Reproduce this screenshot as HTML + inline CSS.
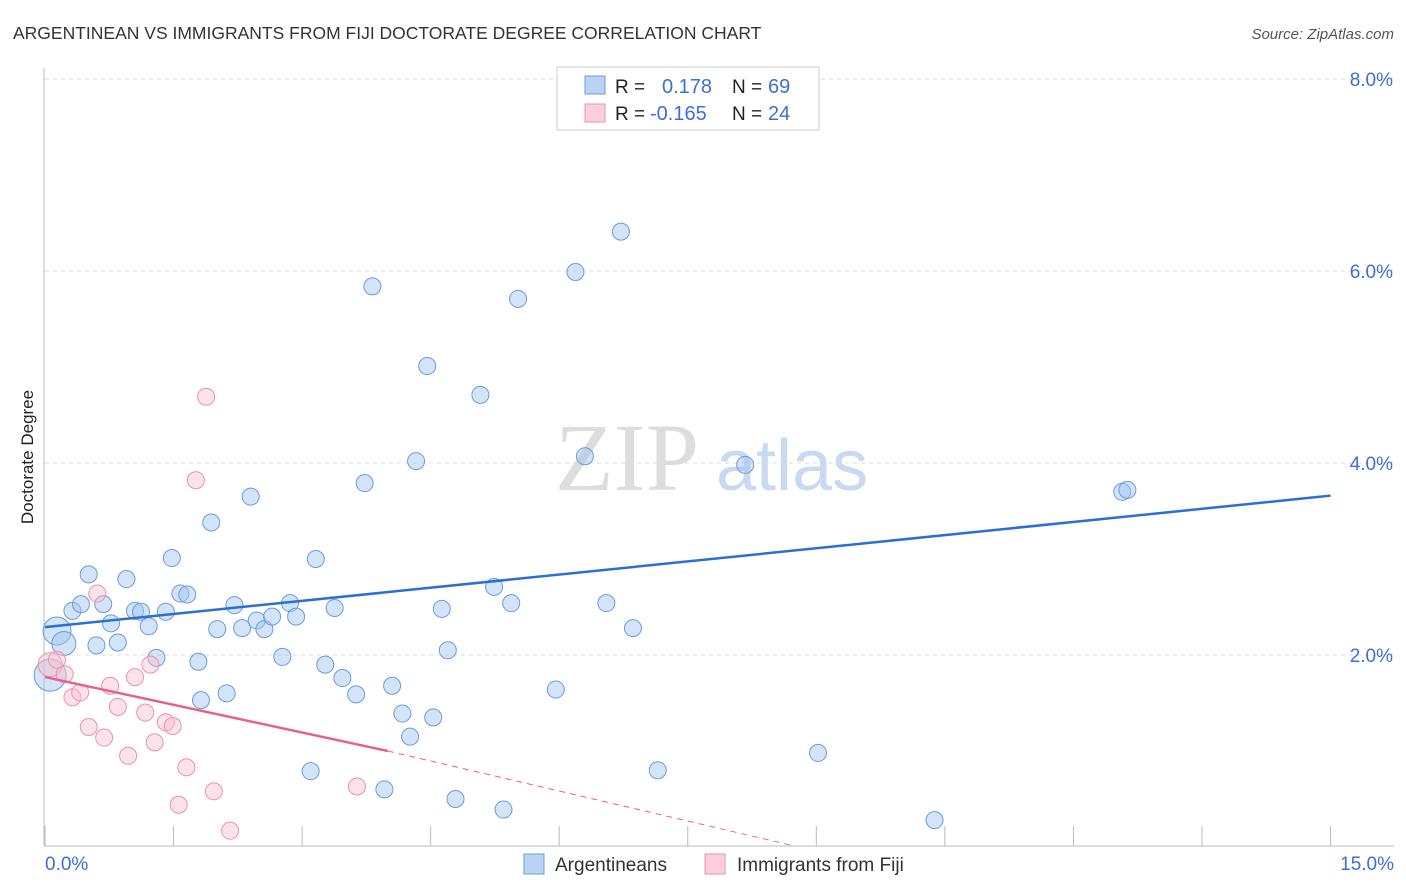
<!DOCTYPE html>
<html><head><meta charset="utf-8"><style>
body{margin:0;background:#fff;font-family:"Liberation Sans",sans-serif;}
</style></head><body>
<svg id="chart" width="1406" height="892" xmlns="http://www.w3.org/2000/svg" style="display:block">
<text x="13" y="39" font-size="17.5" fill="#333">ARGENTINEAN VS IMMIGRANTS FROM FIJI DOCTORATE DEGREE CORRELATION CHART</text>
<text x="1394" y="39" font-size="15" fill="#555" text-anchor="end" font-style="italic">Source: ZipAtlas.com</text>
<text transform="translate(33,457) rotate(-90)" font-size="17" fill="#222" text-anchor="middle">Doctorate Degree</text>
<g id="grid"></g>
<text x="555" y="490" font-size="96" fill="#ddd" font-family="Liberation Serif,serif">ZIP</text>
<text x="716" y="490" font-size="72" fill="#c9d9f2">atlas</text>
<g id="marks"></g>
<g id="legend">
<rect x="557" y="67" width="262" height="63" fill="#fff" stroke="#ccc"/>
<rect x="585" y="76" width="20" height="18" fill="#b9d3f5" stroke="#6b9be0"/>
<rect x="585" y="104" width="20" height="18" fill="#fbd0dc" stroke="#ee90ad"/>
<text x="615" y="93" font-size="19" fill="#222">R =</text>
<text x="662" y="93" font-size="20" fill="#3b6fd8">0.178</text>
<text x="732" y="93" font-size="19" fill="#222">N =</text>
<text x="768" y="93" font-size="20" fill="#3b6fd8">69</text>
<text x="615" y="120" font-size="19" fill="#222">R =</text>
<text x="650" y="120" font-size="20" fill="#3b6fd8">-0.165</text>
<text x="732" y="120" font-size="19" fill="#222">N =</text>
<text x="768" y="120" font-size="20" fill="#3b6fd8">24</text>
</g>
<g>
<rect x="524" y="854" width="20" height="20" fill="#b9d3f5" stroke="#6b9be0"/>
<text x="555" y="871" font-size="19" fill="#333">Argentineans</text>
<rect x="705" y="854" width="20" height="20" fill="#fbd0dc" stroke="#ee90ad"/>
<text x="737" y="871" font-size="19" fill="#333">Immigrants from Fiji</text>
</g>
</svg>
<script>
const NS="http://www.w3.org/2000/svg";
const blueX=[0.14,0.22,0.06,0.32,0.42,0.51,0.6,0.68,0.77,0.85,0.95,1.05,1.12,1.21,1.3,1.41,1.48,1.58,1.66,1.79,1.82,1.94,2.01,2.12,2.21,2.3,2.4,2.47,2.56,2.65,2.77,2.86,2.93,3.1,3.16,3.27,3.38,3.47,3.63,3.73,3.82,3.96,4.05,4.17,4.26,4.33,4.46,4.53,4.63,4.7,4.79,5.08,5.24,5.35,5.44,5.52,5.96,6.19,6.3,6.55,6.72,6.86,7.15,8.17,9.02,10.38,12.57,12.63,6.08];
const blueY=[2.25,2.12,1.79,2.46,2.53,2.84,2.1,2.53,2.33,2.13,2.79,2.46,2.45,2.3,1.97,2.45,3.01,2.64,2.63,1.93,1.53,3.38,2.27,1.6,2.52,2.28,3.65,2.36,2.27,2.4,1.98,2.54,2.4,0.79,3.0,1.9,2.49,1.76,1.59,3.79,5.84,0.6,1.68,1.39,1.15,4.02,5.01,1.35,2.48,2.05,0.5,4.71,2.71,0.39,2.54,5.71,1.64,5.99,4.07,2.54,6.41,2.28,0.8,3.98,0.98,0.28,3.7,3.72,7.71];
const pinkX=[0.06,0.14,0.23,0.32,0.41,0.51,0.61,0.69,0.76,0.85,0.97,1.05,1.17,1.23,1.28,1.41,1.49,1.56,1.65,1.76,1.88,1.97,2.16,3.64];
const pinkY=[1.9,1.95,1.8,1.56,1.61,1.25,2.64,1.14,1.68,1.46,0.95,1.77,1.4,1.9,1.09,1.3,1.26,0.44,0.83,3.82,4.69,0.58,0.17,0.63];
const blueSize=[14,12,16];const pinkSize=[12];
const xTicks=[0,1.5,3,4.5,6,7.5,9,10.5,12,13.5,15];
const yTicks=[2,4,6,8];
const yTickLabels=["2.0%","4.0%","6.0%","8.0%"];
const blueTrend=[[0,2.29],[15,3.66]];
const pinkTrend=[[0,1.77],[4,1.0],[8.7,0.02]];
const X=v=>45+v*85.7, Y=v=>847-v*96;
function mk(tag,at,parent){const e=document.createElementNS(NS,tag);for(const k in at)e.setAttribute(k,at[k]);parent.appendChild(e);return e;}
const grid=document.getElementById('grid'),marks=document.getElementById('marks'),svg=document.getElementById('chart');
yTicks.forEach((t,i)=>{
 const l=mk('line',{x1:45,x2:1394,y1:Y(t),y2:Y(t),stroke:'#ddd','stroke-dasharray':'4,4'},grid);
 
 
 const tx=mk('text',{x:1393,y:Y(t)+7,'font-size':19,fill:'#3b6fd8','text-anchor':'end'},grid);tx.textContent=yTickLabels[i];
 
 
});
const ax=mk('line',{x1:44,x2:44,y1:68,y2:846,stroke:'#bbb'},grid);


const bx=mk('line',{x1:44,x2:1394,y1:846,y2:846,stroke:'#bbb'},grid);


xTicks.forEach(t=>{const l=mk('line',{x1:X(t),x2:X(t),y1:826,y2:846,stroke:'#bbb'},grid);
 
 });
const x0=mk('text',{x:45,y:870,'font-size':19,fill:'#3b6fd8'},grid);x0.textContent='0.0%';


const x1=mk('text',{x:1394,y:870,'font-size':19,fill:'#3b6fd8','text-anchor':'end'},grid);x1.textContent='15.0%';


blueX.forEach((v,i)=>{const c=mk('circle',{cx:X(v),cy:Y(blueY[i]),r:blueSize[i]||8.5,fill:'rgba(160,196,240,0.45)',stroke:'#6b9be0','stroke-width':1},marks);
 
 });
pinkX.forEach((v,i)=>{const c=mk('circle',{cx:X(v),cy:Y(pinkY[i]),r:pinkSize[i]||8.5,fill:'rgba(248,190,206,0.45)',stroke:'#ee90ad','stroke-width':1},marks);
 
 });
const bl=mk('line',{x1:X(blueTrend[0][0]),y1:Y(blueTrend[0][1]),x2:X(blueTrend[1][0]),y2:Y(blueTrend[1][1]),stroke:'#2a6fd6','stroke-width':2.5},marks);


const pl=mk('line',{x1:X(pinkTrend[0][0]),y1:Y(pinkTrend[0][1]),x2:X(pinkTrend[1][0]),y2:Y(pinkTrend[1][1]),stroke:'#e8608a','stroke-width':2.5},marks);


const pd=mk('line',{x1:X(pinkTrend[1][0]),y1:Y(pinkTrend[1][1]),x2:X(pinkTrend[2][0]),y2:Y(pinkTrend[2][1]),stroke:'#e8608a','stroke-width':1,'stroke-dasharray':'6,5'},marks);


svg.appendChild(document.getElementById('legend'));
</script>
</body></html>
